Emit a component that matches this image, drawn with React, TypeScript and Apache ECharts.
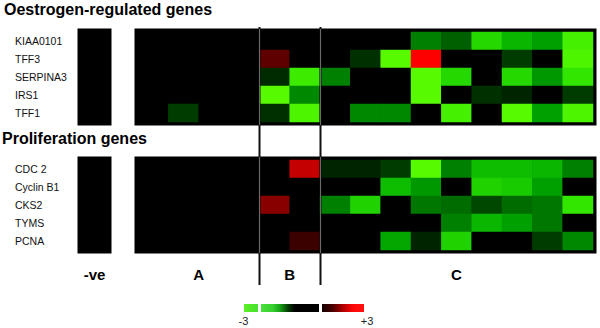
import React, { useEffect, useRef } from "react";
import * as echarts from "echarts";

// ---- data ----
const oestrogenGenes = ["KIAA0101", "TFF3", "SERPINA3", "IRS1", "TFF1"];
const proliferationGenes = ["CDC 2", "Cyclin B1", "CKS2", "TYMS", "PCNA"];
const negColumn = ["-ve"];
const sampleColumns = ["A1", "A2", "A3", "A4", "B1", "B2", "C1", "C2", "C3", "C4", "C5", "C6", "C7", "C8", "C9"];
const groupLabels = ["A", "B", "C"];
const groupSizes = [4, 2, 9];

const oestrogenNeg = [0, 0, 0, 0, 0];
const proliferationNeg = [0, 0, 0, 0, 0];

// rows = genes, columns = A1..A4, B1..B2, C1..C9 (log ratio, -3..+3)
const oestrogenValues = [
  [0, 0, 0, 0, 0, 0, 0, 0, 0, -1.1, -0.8, -2.3, -1.8, -1.5, -2.7],
  [0, 0, 0, 0, 1.1, 0, 0, -0.4, -2.9, 3.0, 0, 0, -0.5, 0, -2.8],
  [0, 0, 0, 0, -0.35, -2.6, -1.1, 0, 0, -2.9, -2.3, 0, -2.3, -1.4, -2.5],
  [0, 0, 0, 0, -2.9, -1.2, 0, 0, 0, -2.9, 0, -0.4, -0.3, 0, -0.5],
  [0, -0.5, 0, 0, -0.4, -2.8, 0, -1.2, -1.2, 0, -2.7, 0, -2.9, -1.5, -2.8],
];
const proliferationValues = [
  [0, 0, 0, 0, 0, 2.3, -0.3, -0.3, -0.5, -2.9, -1.1, -1.9, -1.9, -1.8, -1.1],
  [0, 0, 0, 0, 0, 0, 0, 0, -1.9, -1.4, 0, -2.2, -2.1, -1.5, 0],
  [0, 0, 0, 0, 1.6, 0, -1.1, -2.2, 0, -1.0, -0.9, -0.6, -0.9, -1.0, -2.5],
  [0, 0, 0, 0, 0, 0, 0, 0, 0, 0, -1.1, -1.8, -1.5, -1.0, 0],
  [0, 0, 0, 0, 0, 0.7, 0, 0, -1.6, -0.3, -2.2, 0, 0, -0.5, -1.2],
];
const scaleMin = -3;
const scaleMax = 3;
const scaleLabels = ["-3", "+3"];

// ---- layout ----
const FONT = "Liberation Sans, Arial, sans-serif";
const negLeft = 81;
const negWidth = 27;
const mainLeft = 138;
const mainWidth = 455;
const topY = 32;
const bottomY = 160;
const blockH = 90;
const colW = mainWidth / sampleColumns.length;

function matrixData(rows: number[][]) {
  const out: number[][] = [];
  rows.forEach((row, r) => row.forEach((v, c) => out.push([c, r, v])));
  return out;
}
function negData(col: number[]) {
  return col.map((v, r) => [0, r, v]);
}

export default function App() {
  const ref = useRef<HTMLDivElement>(null);
  useEffect(() => {
    const chart = echarts.init(ref.current!, null, { renderer: "svg" });

    const gridBase = {
      show: true,
      backgroundColor: "#000",
      borderColor: "#000",
      borderWidth: 7,
      containLabel: false,
    };
    const grids = [
      { ...gridBase, left: negLeft, top: topY, width: negWidth, height: blockH },
      { ...gridBase, left: mainLeft, top: topY, width: mainWidth, height: blockH },
      { ...gridBase, left: negLeft, top: bottomY, width: negWidth, height: blockH },
      { ...gridBase, left: mainLeft, top: bottomY, width: mainWidth, height: blockH },
    ];
    const hiddenX = (i: number, data: string[]) => ({
      type: "category",
      gridIndex: i,
      data,
      show: false,
    });
    const yAx = (i: number, data: string[], showLabels: boolean, pad: number[]) => ({
      type: "category",
      gridIndex: i,
      data,
      inverse: true,
      axisLine: { show: false },
      axisTick: { show: false },
      splitLine: { show: false },
      axisLabel: {
        show: showLabels,
        align: "left",
        margin: negLeft - 15,
        fontSize: 10.5,
        color: "#111",
        fontFamily: FONT,
        padding: pad,
      },
    });

    const heat = (xi: number, data: number[][]) => ({
      type: "heatmap",
      xAxisIndex: xi,
      yAxisIndex: xi,
      data,
      itemStyle: { borderWidth: 0 },
      emphasis: { disabled: true },
    });

    // boundaries between groups A|B and B|C
    const boundaries: number[] = [];
    let acc = 0;
    groupSizes.forEach((s, i) => {
      acc += s;
      if (i < groupSizes.length - 1) boundaries.push(mainLeft + acc * colW);
    });

    const graphics: any[] = [];
    boundaries.forEach((bx) => {
      const x = Math.round(bx) + 0.5;
      graphics.push({
        type: "line",
        z: 100,
        shape: { x1: x, y1: 27, x2: x, y2: 285 },
        style: { stroke: "#111", lineWidth: 2 },
      });
      [topY, bottomY].forEach((ty) => {
        graphics.push({
          type: "line",
          z: 101,
          shape: { x1: x, y1: ty - 3, x2: x, y2: ty + blockH + 3 },
          style: { stroke: "#6a6a6a", lineWidth: 1 },
        });
      });
    });

    // group labels
    const labelY = 274;
    graphics.push({
      type: "text",
      x: negLeft + negWidth / 2,
      y: labelY,
      style: {
        text: negColumn[0],
        font: "bold 15px " + FONT,
        fill: "#000",
        align: "center",
        verticalAlign: "middle",
      },
    });
    let start = 0;
    groupSizes.forEach((s, i) => {
      const cx = mainLeft + (start + s / 2) * colW;
      start += s;
      graphics.push({
        type: "text",
        x: cx,
        y: labelY,
        style: {
          text: groupLabels[i],
          font: "bold 15px " + FONT,
          fill: "#000",
          align: "center",
          verticalAlign: "middle",
        },
      });
    });

    // colour scale legend
    const barY = 304;
    const barH = 8;
    const grad = (stops: [number, string][]) => ({
      type: "linear",
      x: 0,
      y: 0,
      x2: 1,
      y2: 0,
      colorStops: stops.map(([offset, color]) => ({ offset, color })),
    });
    graphics.push(
      {
        type: "rect",
        shape: { x: 244, y: barY, width: 14, height: barH },
        style: { fill: grad([[0, "#5cf024"], [1, "#48e030"]]) },
      },
      {
        type: "rect",
        shape: { x: 261, y: barY, width: 58, height: barH },
        style: {
          fill: grad([
            [0, "#48e038"],
            [0.2, "#38d030"],
            [0.32, "#17a817"],
            [0.45, "#064806"],
            [0.58, "#000"],
            [1, "#000"],
          ]),
        },
      },
      {
        type: "rect",
        shape: { x: 322, y: barY, width: 42, height: barH },
        style: {
          fill: grad([
            [0, "#140000"],
            [0.25, "#4a0000"],
            [0.5, "#b00000"],
            [0.75, "#ff0808"],
            [1, "#ff1010"],
          ]),
        },
      },
      {
        type: "text",
        x: 243.5,
        y: 321,
        style: { text: scaleLabels[0], font: "11px " + FONT, fill: "#222", align: "center", verticalAlign: "middle" },
      },
      {
        type: "text",
        x: 367,
        y: 321,
        style: { text: scaleLabels[1], font: "11px " + FONT, fill: "#222", align: "center", verticalAlign: "middle" },
      }
    );

    chart.setOption({
      animation: false,
      backgroundColor: "#fff",
      title: [
        {
          text: "Oestrogen-regulated genes",
          left: 4,
          top: 1,
          textStyle: { fontFamily: FONT, fontWeight: "bold", fontSize: 16, color: "#000" },
          padding: 0,
        },
        {
          text: "Proliferation genes",
          left: 2,
          top: 130,
          textStyle: { fontFamily: FONT, fontWeight: "bold", fontSize: 16, color: "#000" },
          padding: 0,
        },
      ],
      grid: grids,
      xAxis: [
        hiddenX(0, negColumn),
        hiddenX(1, sampleColumns),
        hiddenX(2, negColumn),
        hiddenX(3, sampleColumns),
      ],
      yAxis: [
        yAx(0, oestrogenGenes, true, [4, 0, 0, 0]),
        yAx(1, oestrogenGenes, false, [0, 0, 0, 0]),
        yAx(2, proliferationGenes, true, [0, 0, 7, 0]),
        yAx(3, proliferationGenes, false, [0, 0, 0, 0]),
      ],
      visualMap: {
        show: false,
        type: "continuous",
        min: scaleMin,
        max: scaleMax,
        dimension: 2,
        inRange: {
          color: [
            "#60ff00",
            "#33e600",
            "#11c400",
            "#00a000",
            "#007800",
            "#003c00",
            "#000000",
            "#2a0000",
            "#550000",
            "#800000",
            "#aa0000",
            "#d50000",
            "#ff0000",
          ],
        },
      },
      series: [
        heat(0, negData(oestrogenNeg)),
        heat(1, matrixData(oestrogenValues)),
        heat(2, negData(proliferationNeg)),
        heat(3, matrixData(proliferationValues)),
      ],
      graphic: graphics,
    });
    return () => chart.dispose();
  }, []);
  return <div ref={ref} style={{ width: 600, height: 328, position: "absolute", left: 0, top: 0 }} />;
}
